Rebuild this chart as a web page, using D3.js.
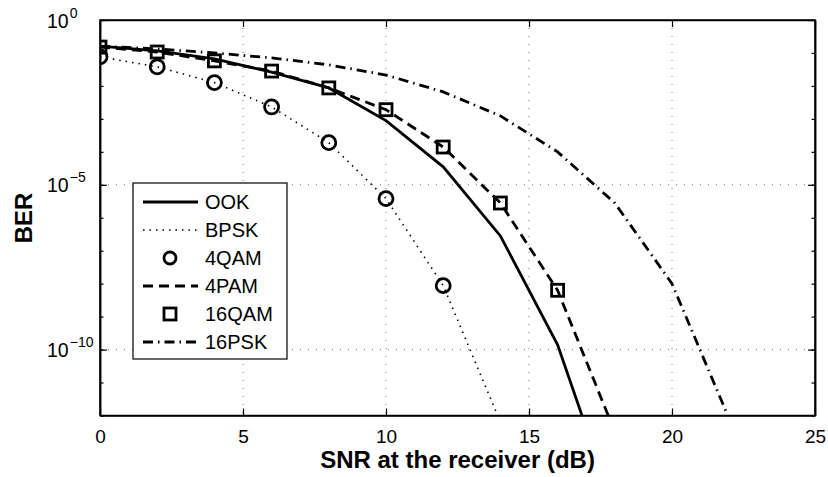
<!DOCTYPE html>
<html>
<head>
<meta charset="utf-8">
<script src="https://cdn.jsdelivr.net/npm/d3@7"></script>
<style>
  body { margin: 0; background: #fff; }
  svg text { font-family: "Liberation Sans", Arial, sans-serif; }
</style>
</head>
<body>
<div id="chart"></div>
<script>
const snr = [0, 2, 4, 6, 8, 10, 12, 14, 16, 18, 20, 22];
const xTicks = [0, 5, 10, 15, 20, 25];
const yTicks = [0, -5, -10];

// BER, one value per 2 dB step
const ook   = [0.162, 0.115, 0.066, 0.0263, 0.0087, 8.9e-4, 3.5e-5, 2.8e-7, 1.4e-10, 1.3e-15];
const bpsk  = [0.076, 0.038, 0.0126, 2.3e-3, 1.9e-4, 3.8e-6, 8.7e-9, 6.3e-13];
const qam4  = [0.076, 0.038, 0.0126, 2.3e-3, 1.9e-4, 3.8e-6, 8.7e-9];
const pam4  = [0.151, 0.107, 0.0575, 0.0282, 0.0087, 1.9e-3, 1.4e-4, 2.8e-6, 6.3e-9, 3.2e-13];
const qam16 = [0.151, 0.107, 0.0575, 0.0282, 0.0087, 1.9e-3, 1.4e-4, 2.8e-6, 6.3e-9];
const psk16 = [0.162, 0.132, 0.1, 0.0708, 0.0437, 0.0214, 6.6e-3, 1.23e-3, 1e-4, 2.8e-6, 1e-8, 7.9e-13];

const margin = { top: 20, right: 13, bottom: 61.5, left: 100 },
      width = 828 - margin.left - margin.right,
      height = 477 - margin.top - margin.bottom;

const svg = d3.select("#chart").append("svg")
    .attr("width", 828)
    .attr("height", 477)
  .append("g")
    .attr("transform", `translate(${margin.left},${margin.top})`);

const x = d3.scaleLinear().domain([0, 25]).range([0, width]);
const y = d3.scaleLog().domain([1e-12, 1]).range([height, 0]);

// grid
svg.selectAll(".vgrid")
    .data(xTicks.slice(1, -1))
    .enter().append("line")
    .attr("x1", d => x(d)).attr("x2", d => x(d))
    .attr("y1", 0).attr("y2", height)
    .style("stroke", "#777").style("stroke-width", 1)
    .style("stroke-dasharray", "1,7");

svg.selectAll(".hgrid")
    .data(yTicks.slice(1))
    .enter().append("line")
    .attr("x1", 0).attr("x2", width)
    .attr("y1", d => y(Math.pow(10, d))).attr("y2", d => y(Math.pow(10, d)))
    .style("stroke", "#777").style("stroke-width", 1)
    .style("stroke-dasharray", "1,7");

// axes with inward ticks
const xAxisB = d3.axisBottom(x).tickValues(xTicks).tickSizeInner(-7).tickSizeOuter(0).tickPadding(14);
const xAxisT = d3.axisTop(x).tickValues(xTicks).tickSizeInner(-7).tickSizeOuter(0).tickFormat("");

svg.append("g").attr("class", "x axis")
    .attr("transform", `translate(0,${height})`)
    .call(xAxisB);
svg.append("g").attr("class", "x axis top").call(xAxisT);

const decades = d3.range(-12, 1);
const yAxisL = d3.axisLeft(y).tickValues(decades.map(d => Math.pow(10, d)))
    .tickSizeInner(-3.5).tickSizeOuter(0).tickFormat("");
const yAxisR = d3.axisRight(y).tickValues(decades.map(d => Math.pow(10, d)))
    .tickSizeInner(-3.5).tickSizeOuter(0).tickFormat("");
svg.append("g").attr("class", "y axis").call(yAxisL);
svg.append("g").attr("class", "y axis").attr("transform", `translate(${width},0)`).call(yAxisR);

const yMajL = d3.axisLeft(y).tickValues(yTicks.map(d => Math.pow(10, d)))
    .tickSizeInner(-7).tickSizeOuter(0).tickFormat("");
const yMajR = d3.axisRight(y).tickValues(yTicks.map(d => Math.pow(10, d)))
    .tickSizeInner(-7).tickSizeOuter(0).tickFormat("");
svg.append("g").attr("class", "y axis").call(yMajL);
svg.append("g").attr("class", "y axis").attr("transform", `translate(${width},0)`).call(yMajR);

svg.selectAll(".axis path, .axis line").style("stroke", "#000").style("stroke-width", 1.2);
svg.selectAll(".axis .domain").style("stroke-width", 1.5);
svg.selectAll(".x.axis text").style("font-size", "19px").style("fill", "#000");

// log tick labels 10^n
const yLab = svg.selectAll(".ylab")
    .data(yTicks)
    .enter().append("text")
    .attr("class", "ylab")
    .attr("x", -53)
    .attr("y", d => y(Math.pow(10, d)) + 7.5)
    .style("font-size", "19.5px");
yLab.append("tspan").text("10");
yLab.append("tspan")
    .attr("dx", 1)
    .attr("dy", -10)
    .style("font-size", "14px")
    .text(d => d === 0 ? "0" : "\u2212" + Math.abs(d));

// box
svg.append("rect")
    .attr("width", width).attr("height", height)
    .style("fill", "none").style("stroke", "#000").style("stroke-width", 1.5);

// labels
svg.append("text")
    .attr("x", width / 2).attr("y", height + 52)
    .attr("text-anchor", "middle")
    .style("font-size", "24px").style("font-weight", "bold")
    .text("SNR at the receiver (dB)");

svg.append("text")
    .attr("transform", `translate(-68,${198}) rotate(-90)`)
    .attr("text-anchor", "middle")
    .style("font-size", "24px").style("font-weight", "bold")
    .text("BER");

// curves
svg.append("clipPath").attr("id", "clip")
  .append("rect").attr("width", width).attr("height", height);

const plot = svg.append("g").attr("clip-path", "url(#clip)");

const line = d3.line()
    .x((d, i) => x(snr[i]))
    .y(d => y(d));

const series = [
    { name: "OOK",   values: ook,   dash: null,           width: 2.8, marker: null },
    { name: "BPSK",  values: bpsk,  dash: "1.5,5",        width: 1.6, marker: null },
    { name: "4QAM",  values: qam4,  dash: null,           width: 2.8, marker: "circle" },
    { name: "4PAM",  values: pam4,  dash: "10,6",         width: 2.8, marker: null },
    { name: "16QAM", values: qam16, dash: null,           width: 2.8, marker: "square" },
    { name: "16PSK", values: psk16, dash: "10,5,1.5,5",   width: 2.8, marker: null }
];

series.forEach(s => {
    if (s.marker === "circle") {
        plot.selectAll(".c-" + s.name)
            .data(s.values)
            .enter().append("circle")
            .attr("cx", (d, i) => x(snr[i]))
            .attr("cy", d => y(d))
            .attr("r", 7)
            .style("fill", "none").style("stroke", "#000").style("stroke-width", 2.8);
    } else if (s.marker === "square") {
        plot.selectAll(".s-" + s.name)
            .data(s.values)
            .enter().append("rect")
            .attr("x", (d, i) => x(snr[i]) - 6)
            .attr("y", d => y(d) - 6)
            .attr("width", 12).attr("height", 12)
            .style("fill", "none").style("stroke", "#000").style("stroke-width", 2.8);
    } else {
        plot.append("path")
            .datum(s.values)
            .attr("d", line)
            .style("fill", "none")
            .style("stroke", "#000")
            .style("stroke-width", s.width)
            .style("stroke-dasharray", s.dash);
    }
});

// legend
const legend = svg.append("g").attr("transform", "translate(33,163)");
legend.append("rect")
    .attr("width", 154).attr("height", 176)
    .style("fill", "#fff").style("stroke", "#000").style("stroke-width", 1.2);

const item = legend.selectAll(".legend")
    .data(series)
    .enter().append("g")
    .attr("class", "legend")
    .attr("transform", (d, i) => `translate(0,${19 + i * 28})`);

item.filter(d => !d.marker).append("line")
    .attr("x1", 10).attr("x2", 65)
    .style("stroke", "#000")
    .style("stroke-width", d => d.width)
    .style("stroke-dasharray", d => d.dash);

item.filter(d => d.marker === "circle").append("circle")
    .attr("cx", 37).attr("r", 6)
    .style("fill", "none").style("stroke", "#000").style("stroke-width", 2.8);

item.filter(d => d.marker === "square").append("rect")
    .attr("x", 31).attr("y", -6).attr("width", 12).attr("height", 12)
    .style("fill", "none").style("stroke", "#000").style("stroke-width", 2.8);

item.append("text")
    .attr("x", 72).attr("dy", "0.36em")
    .style("font-size", "20px")
    .text(d => d.name);
</script>
</body>
</html>
